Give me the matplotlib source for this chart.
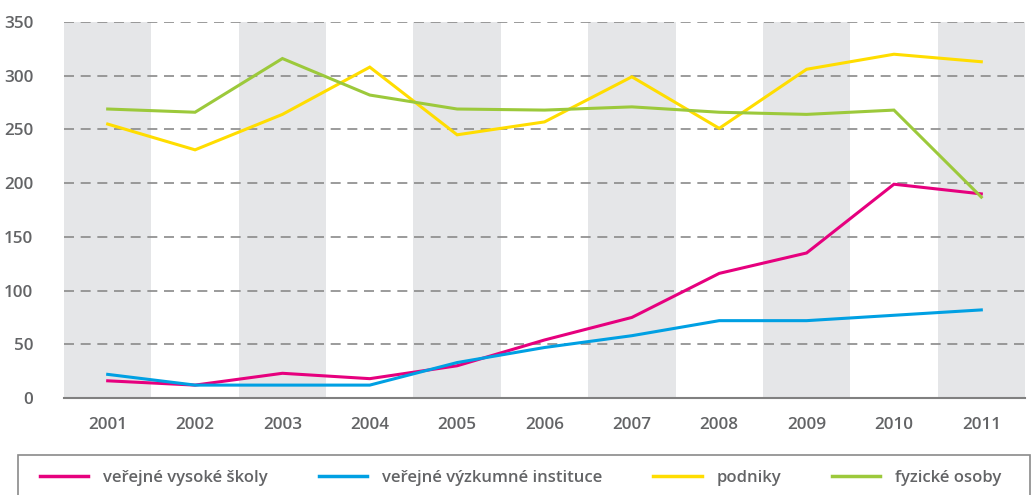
import matplotlib
matplotlib.use("Agg")
import matplotlib.pyplot as plt
from matplotlib.patches import Rectangle
import numpy as np

## Data
years = ["2001", "2002", "2003", "2004", "2005", "2006", "2007", "2008", "2009", "2010", "2011"]
vs = [16, 12, 23, 18, 30, 54, 75, 116, 135, 199, 190]      # veřejné vysoké školy
vvi = [22, 12, 12, 12, 33, 47, 58, 72, 72, 77, 82]          # veřejné výzkumné instituce
podniky = [255, 231, 264, 308, 245, 257, 299, 251, 306, 320, 313]
fyz = [269, 266, 316, 282, 269, 268, 271, 266, 264, 268, 187]

labels = ["veřejné vysoké školy", "veřejné výzkumné instituce", "podniky", "fyzické osoby"]
colors = ["#e6007e", "#00a0e3", "#ffdd00", "#9cc93b"]

plt.rcParams['font.family'] = ['Open Sans', 'DejaVu Sans']
plt.rcParams['font.weight'] = 'semibold'
txt = "#636466"

W, H = 1035, 495
fig = plt.figure(figsize=(W / 100, H / 100), dpi=100)
ax = fig.add_axes([64 / W, 1 - 398 / H, (1025 - 64) / W, (398 - 22) / H])

x = np.arange(len(years))
# alternating background bands
for i in x[::2]:
    ax.axvspan(i - 0.5, i + 0.5, color="#e5e6e8", lw=0, zorder=0)

for yv in range(50, 351, 50):
    ax.axhline(yv, color="#8a8a8a", lw=1.2, dashes=(6, 4), zorder=1)

for s, lab, c in zip([vs, vvi, podniky, fyz], labels, colors):
    ax.plot(x, s, color=c, lw=2.2, label=lab, zorder=3, solid_joinstyle="miter")

ax.set_xlim(-0.5, 10.5)
ax.set_ylim(0, 350)
ax.set_xticks(x)
ax.set_xticklabels(years)
ax.set_yticks(range(0, 351, 50))
ax.tick_params(length=0, labelsize=12.3, colors=txt, pad=14)
ax.tick_params(axis="y", pad=22)
for sp in ["top", "right", "left"]:
    ax.spines[sp].set_visible(False)
ax.spines["bottom"].set_color("#808080")
ax.spines["bottom"].set_linewidth(1.5)

# legend box (cut off at the bottom like the original)
fig.patches.append(Rectangle((18 / W, -0.05), (1030 - 18) / W, 0.05 + 1 - 455 / H,
                             transform=fig.transFigure, fill=False, ec="#8a8a8a", lw=1.2))
leg = fig.legend(loc="center left", bbox_to_anchor=(40 / W, 1 - 478 / H),
                 ncol=4, fontsize=12, handlelength=2.9, handletextpad=0.9,
                 columnspacing=3.05, borderpad=0, frameon=False, borderaxespad=0)
for t in leg.get_texts():
    t.set_color(txt)
for h in leg.get_lines():
    h.set_linewidth(2.5)

fig.savefig("out.png", dpi=100)
